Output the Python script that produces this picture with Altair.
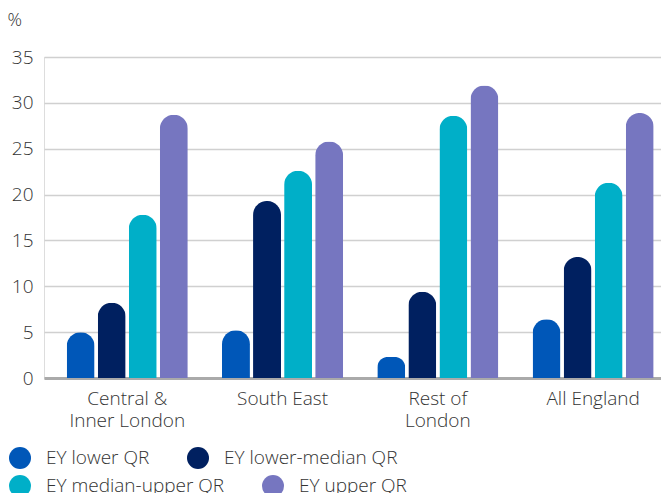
import altair as alt
import pandas as pd

regions = ["Central & Inner London", "South East", "Rest of London", "All England"]
region_lines = {
    "Central & Inner London": ["Central &", "Inner London"],
    "South East": ["South East"],
    "Rest of London": ["Rest of", "London"],
    "All England": ["All England"],
}
series = ["EY lower QR", "EY lower-median QR", "EY median-upper QR", "EY upper QR"]
colors = ["#0057b8", "#002060", "#00afc8", "#7676c0"]

lower = [5.0, 5.2, 2.3, 6.4]
lower_median = [8.2, 19.3, 9.4, 13.2]
median_upper = [17.8, 22.6, 28.6, 21.3]
upper = [28.7, 25.8, 31.9, 28.9]

rows = []
for name, vals in zip(series, [lower, lower_median, median_upper, upper]):
    for region, v in zip(regions, vals):
        rows.append({"region": region, "series": name, "value": v})
df = pd.DataFrame(rows)

label_expr = " : ".join(
    f"datum.label == '{r}' ? {region_lines[r]!r}" for r in regions if len(region_lines[r]) > 1
) + " : datum.label"

FONT = "Open Sans"
WEIGHT = 300
TEXT = "#333333"

base = alt.Chart(df).mark_bar(cornerRadiusTopLeft=13.9, cornerRadiusTopRight=13.9).encode(
    x=alt.X(
        "region:N",
        sort=regions,
        title=None,
        scale=alt.Scale(paddingInner=0.22, paddingOuter=0.0965, align=0.757),
        axis=alt.Axis(
            labelAngle=0,
            labelExpr=label_expr,
            labelFontSize=19,
            labelFontWeight=WEIGHT,
            labelLineHeight=22,
            labelPadding=11,
            labelColor=TEXT,
            labelFont=FONT,
            ticks=False,
            domainColor="#aaaaaa",
            domainWidth=3,
            grid=False,
        ),
    ),
    xOffset=alt.XOffset(
        "series:N",
        sort=series,
        scale=alt.Scale(domain=series, paddingInner=0.1, paddingOuter=0),
    ),
    y=alt.Y(
        "value:Q",
        scale=alt.Scale(domain=[0, 35], nice=False),
        axis=alt.Axis(
            title="%",
            titleAngle=0,
            titleX=-37,
            titleY=-32,
            titleAlign="left",
            titleBaseline="alphabetic",
            titleFontSize=18,
            titleFontWeight=WEIGHT,
            titleColor=TEXT,
            titleFont=FONT,
            values=[0, 5, 10, 15, 20, 25, 30, 35],
            labelFontSize=19,
            labelFontWeight=WEIGHT,
            labelColor=TEXT,
            labelFont=FONT,
            labelPadding=11,
            ticks=False,
            domain=False,
            gridColor="#d0d0d0",
            gridWidth=1.5,
        ),
    ),
)


def legend_row(y):
    # one horizontal legend row; entries flow left to right at their own widths
    return alt.Legend(
        title=None,
        orient="none",
        legendX=-35,
        legendY=y,
        direction="horizontal",
        symbolType="circle",
        symbolSize=484,
        symbolStrokeWidth=0,
        symbolOpacity=1,
        labelFontSize=19,
        labelFontWeight=WEIGHT,
        labelFont=FONT,
        labelColor=TEXT,
        labelLimit=400,
        labelOffset=15,
        columnPadding=37,
    )


first = base.transform_filter(
    alt.FieldOneOfPredicate(field="series", oneOf=series[:2])
).encode(
    color=alt.Color(
        "series:N",
        sort=series[:2],
        scale=alt.Scale(domain=series[:2], range=colors[:2]),
        legend=legend_row(390),
    )
)

second = base.transform_filter(
    alt.FieldOneOfPredicate(field="series", oneOf=series[2:])
).encode(
    color=alt.Color(
        "series:N",
        sort=series[2:],
        scale=alt.Scale(domain=series[2:], range=colors[2:]),
        legend=legend_row(418),
    )
)

chart = (
    alt.layer(first, second)
    .resolve_scale(color="independent")
    .properties(
        width=617,
        height=321,
        autosize=alt.AutoSizeParams(type="none"),
        padding={"left": 44, "top": 57, "right": 0, "bottom": 115},
    )
    .configure_view(stroke=None)
    .configure(background="white")
)

chart.save("out.html", embed_options={"renderer": "svg", "actions": False})
